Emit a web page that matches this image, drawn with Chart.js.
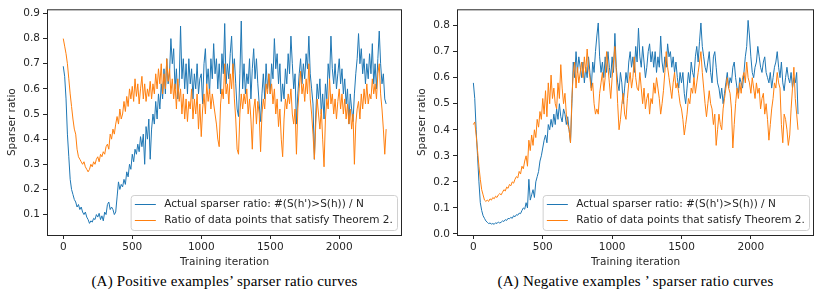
<!DOCTYPE html>
<html>
<head>
<meta charset="utf-8">
<script src="https://cdn.jsdelivr.net/npm/chart.js@4.4.0/dist/chart.umd.min.js"></script>
<style>
  html, body { margin: 0; padding: 0; background: #fff; }
  #wrap { position: relative; width: 822px; height: 291px; overflow: hidden; }
  .panel { position: absolute; top: 0; }
  .cap { position: absolute; top: 274px; font-family: "Liberation Serif", "Times New Roman", serif;
         font-size: 15px; letter-spacing: 0.2px; line-height: 15px; color: #000; white-space: nowrap; text-align: center; }
</style>
</head>
<body>
<div id="wrap">
  <canvas class="panel" id="posChart" width="410" height="270" style="left:0"></canvas>
  <canvas class="panel" id="negChart" width="412" height="270" style="left:410px"></canvas>
  <div class="cap" style="left:47px;width:355px">(A) Positive examples’ sparser ratio curves</div>
  <div class="cap" style="left:457px;width:357px">(A) Negative examples ’ sparser ratio curves</div>
</div>
<script>
// one value every 10 training iterations (0 .. 2340), one row = 100 iterations
const STEP = 10;

const posActual = [
  0.69,0.65,0.56,0.42,0.33,0.24,0.20,0.18,0.16,0.15,
  0.13,0.14,0.12,0.13,0.11,0.10,0.11,0.09,0.08,0.065,
  0.075,0.07,0.085,0.08,0.10,0.09,0.105,0.08,0.095,0.075,
  0.11,0.10,0.14,0.15,0.12,0.13,0.12,0.10,0.11,0.17,
  0.23,0.20,0.22,0.21,0.24,0.22,0.27,0.25,0.30,0.28,
  0.34,0.31,0.36,0.34,0.38,0.35,0.41,0.37,0.42,0.30,
  0.45,0.40,0.48,0.32,0.44,0.50,0.46,0.55,0.48,0.58,
  0.52,0.62,0.56,0.68,0.58,0.72,0.62,0.66,0.80,0.70,
  0.76,0.60,0.68,0.56,0.62,0.85,0.64,0.72,0.60,0.70,
  0.58,0.72,0.62,0.68,0.56,0.66,0.60,0.70,0.58,0.64,
  0.66,0.54,0.70,0.76,0.62,0.68,0.58,0.72,0.64,0.78,
  0.66,0.72,0.60,0.70,0.58,0.74,0.66,0.86,0.62,0.70,
  0.64,0.74,0.81,0.66,0.72,0.62,0.52,0.49,0.66,0.87,
  0.60,0.70,0.58,0.66,0.62,0.72,0.56,0.68,0.76,0.64,
  0.72,0.62,0.54,0.47,0.58,0.66,0.56,0.70,0.60,0.66,
  0.58,0.70,0.64,0.80,0.68,0.74,0.62,0.70,0.55,0.62,
  0.56,0.68,0.62,0.74,0.66,0.81,0.70,0.60,0.66,0.46,
  0.58,0.66,0.72,0.62,0.70,0.64,0.74,0.68,0.81,0.66,
  0.60,0.54,0.32,0.50,0.62,0.56,0.64,0.50,0.58,0.48,
  0.62,0.56,0.70,0.64,0.81,0.68,0.62,0.70,0.60,0.66,
  0.72,0.62,0.68,0.58,0.64,0.54,0.60,0.46,0.58,0.52,
  0.47,0.58,0.66,0.72,0.82,0.70,0.76,0.66,0.72,0.62,
  0.70,0.64,0.74,0.66,0.78,0.62,0.70,0.60,0.72,0.83,
  0.70,0.62,0.66,0.56,0.54
];
const posTheorem = [
  0.80,0.77,0.74,0.70,0.64,0.58,0.53,0.48,0.44,0.42,
  0.36,0.33,0.32,0.31,0.30,0.31,0.29,0.28,0.27,0.28,
  0.30,0.29,0.31,0.30,0.32,0.33,0.31,0.34,0.33,0.35,
  0.34,0.37,0.38,0.36,0.42,0.40,0.44,0.42,0.46,0.49,
  0.46,0.52,0.48,0.50,0.55,0.51,0.57,0.53,0.60,0.56,
  0.61,0.55,0.64,0.57,0.62,0.54,0.60,0.65,0.56,0.62,
  0.55,0.60,0.57,0.63,0.56,0.62,0.58,0.66,0.60,0.68,
  0.62,0.70,0.58,0.66,0.60,0.72,0.63,0.68,0.58,0.64,
  0.56,0.62,0.52,0.64,0.55,0.60,0.50,0.58,0.48,0.56,
  0.47,0.55,0.52,0.60,0.48,0.56,0.50,0.58,0.44,0.54,
  0.41,0.52,0.58,0.50,0.62,0.55,0.60,0.52,0.58,0.54,
  0.50,0.46,0.40,0.37,0.54,0.60,0.56,0.70,0.58,0.62,
  0.54,0.66,0.60,0.70,0.56,0.48,0.36,0.34,0.50,0.58,
  0.52,0.58,0.54,0.60,0.50,0.56,0.48,0.36,0.52,0.56,
  0.46,0.55,0.50,0.35,0.50,0.56,0.52,0.62,0.58,0.66,
  0.58,0.62,0.54,0.60,0.50,0.56,0.45,0.52,0.40,0.33,
  0.48,0.56,0.52,0.58,0.54,0.60,0.50,0.46,0.52,0.34,
  0.52,0.60,0.67,0.58,0.62,0.55,0.64,0.58,0.70,0.56,
  0.50,0.42,0.32,0.46,0.56,0.50,0.44,0.52,0.40,0.29,
  0.48,0.56,0.52,0.64,0.54,0.58,0.50,0.56,0.48,0.55,
  0.60,0.52,0.58,0.50,0.56,0.48,0.54,0.46,0.52,0.44,
  0.50,0.30,0.46,0.52,0.55,0.48,0.58,0.52,0.60,0.54,
  0.62,0.54,0.58,0.56,0.64,0.58,0.62,0.56,0.66,0.70,
  0.58,0.52,0.44,0.34,0.44
];
const negActual = [
  0.58,0.52,0.40,0.30,0.20,0.12,0.09,0.07,0.06,0.05,
  0.045,0.04,0.042,0.038,0.04,0.037,0.043,0.04,0.046,0.042,
  0.045,0.05,0.048,0.055,0.052,0.06,0.058,0.064,0.06,0.07,
  0.066,0.074,0.072,0.08,0.078,0.09,0.10,0.095,0.12,0.10,
  0.21,0.13,0.15,0.17,0.14,0.20,0.22,0.24,0.28,0.30,
  0.33,0.36,0.38,0.35,0.42,0.40,0.44,0.41,0.46,0.42,
  0.48,0.44,0.50,0.45,0.43,0.48,0.46,0.42,0.45,0.40,
  0.35,0.50,0.66,0.60,0.70,0.62,0.68,0.64,0.60,0.66,
  0.58,0.64,0.60,0.68,0.62,0.56,0.66,0.62,0.70,0.76,
  0.81,0.68,0.62,0.66,0.60,0.68,0.62,0.70,0.64,0.60,
  0.68,0.62,0.77,0.64,0.58,0.55,0.62,0.58,0.50,0.56,
  0.62,0.58,0.66,0.70,0.64,0.68,0.62,0.72,0.66,0.79,
  0.68,0.64,0.72,0.66,0.60,0.64,0.70,0.73,0.66,0.70,
  0.64,0.70,0.62,0.68,0.64,0.76,0.66,0.62,0.68,0.64,
  0.73,0.68,0.70,0.64,0.68,0.62,0.66,0.60,0.56,0.62,
  0.58,0.62,0.54,0.50,0.56,0.62,0.58,0.66,0.62,0.60,
  0.68,0.72,0.66,0.74,0.81,0.72,0.68,0.64,0.62,0.66,
  0.70,0.62,0.58,0.68,0.70,0.64,0.58,0.56,0.52,0.56,
  0.50,0.54,0.58,0.62,0.56,0.60,0.58,0.64,0.66,0.60,
  0.56,0.54,0.60,0.58,0.56,0.62,0.68,0.72,0.82,0.76,
  0.68,0.62,0.60,0.64,0.66,0.72,0.68,0.64,0.62,0.66,
  0.68,0.62,0.60,0.58,0.62,0.56,0.60,0.64,0.66,0.70,
  0.64,0.60,0.66,0.58,0.55,0.60,0.64,0.60,0.58,0.62,
  0.56,0.60,0.58,0.62,0.46
];
const negTheorem = [
  0.42,0.43,0.38,0.32,0.26,0.21,0.17,0.15,0.13,0.125,
  0.13,0.125,0.135,0.13,0.14,0.135,0.145,0.14,0.15,0.155,
  0.15,0.16,0.17,0.165,0.18,0.175,0.19,0.185,0.20,0.195,
  0.21,0.22,0.215,0.24,0.23,0.26,0.25,0.28,0.30,0.26,
  0.36,0.32,0.38,0.34,0.40,0.37,0.44,0.41,0.47,0.44,
  0.52,0.46,0.55,0.45,0.58,0.50,0.61,0.52,0.56,0.50,
  0.48,0.58,0.52,0.65,0.56,0.50,0.54,0.46,0.42,0.40,
  0.35,0.52,0.62,0.66,0.56,0.64,0.58,0.62,0.66,0.60,
  0.68,0.62,0.71,0.64,0.60,0.55,0.58,0.50,0.46,0.48,
  0.46,0.54,0.58,0.62,0.55,0.60,0.70,0.64,0.58,0.52,
  0.60,0.66,0.72,0.62,0.50,0.40,0.44,0.50,0.54,0.46,
  0.44,0.52,0.58,0.62,0.56,0.60,0.68,0.60,0.56,0.55,
  0.62,0.56,0.50,0.56,0.48,0.52,0.54,0.46,0.52,0.50,
  0.58,0.54,0.60,0.56,0.52,0.46,0.50,0.55,0.62,0.70,
  0.64,0.60,0.56,0.52,0.58,0.62,0.56,0.58,0.54,0.50,
  0.48,0.44,0.38,0.42,0.46,0.52,0.50,0.56,0.54,0.60,
  0.54,0.58,0.62,0.66,0.70,0.62,0.56,0.50,0.45,0.50,
  0.55,0.50,0.48,0.42,0.46,0.34,0.40,0.46,0.42,0.40,
  0.48,0.52,0.56,0.60,0.56,0.54,0.48,0.33,0.42,0.50,
  0.56,0.52,0.58,0.54,0.60,0.62,0.58,0.66,0.60,0.58,
  0.54,0.60,0.56,0.52,0.58,0.54,0.56,0.48,0.52,0.54,
  0.46,0.50,0.44,0.36,0.42,0.48,0.52,0.58,0.56,0.62,
  0.58,0.56,0.42,0.35,0.46,0.44,0.40,0.34,0.38,0.48,
  0.56,0.64,0.52,0.46,0.40
];

const xTicks = [0, 500, 1000, 1500, 2000];
const posYTicks = [0.1, 0.2, 0.3, 0.4, 0.5, 0.6, 0.7, 0.8, 0.9];
const negYTicks = [0.0, 0.1, 0.2, 0.3, 0.4, 0.5, 0.6, 0.7, 0.8];
const seriesLabels = ["Actual sparser ratio: #(S(h')>S(h)) / N", "Ratio of data points that satisfy Theorem 2."];

const FONT = 'DejaVu Sans';
const FS = 10.5;
const TXT = '#262626';

const toPoints = arr => arr.map((v, i) => ({ x: i * STEP, y: v }));

// box around the axes + legend in the lower right, matplotlib style
const framePlugin = {
  id: 'frame',
  afterDraw(chart) {
    const { ctx, chartArea: a } = chart;
    ctx.save();
    ctx.strokeStyle = TXT;
    ctx.lineWidth = 1;
    ctx.strokeRect(a.left + 0.5, a.top + 0.5, a.right - a.left - 1, a.bottom - a.top);

    ctx.font = FS + 'px "' + FONT + '"';
    const textW = Math.max(...chart.data.datasets.map(d => ctx.measureText(d.label).width));
    const pad = 0.4 * FS, handle = 2 * FS, gap = 0.8 * FS;
    const w = pad * 2 + handle + gap + textW, h = 35;
    const right = a.right - 5, bottom = a.bottom - 5;
    const left = right - w, top = bottom - h;
    ctx.beginPath();
    ctx.roundRect(left + 0.5, top + 0.5, w, h, 3);
    ctx.fillStyle = 'rgba(255,255,255,0.8)';
    ctx.fill();
    ctx.strokeStyle = '#d0d0d0';
    ctx.stroke();
    chart.data.datasets.forEach((d, i) => {
      const y = top + 9.5 + i * 16;
      ctx.beginPath();
      ctx.moveTo(left + pad, y);
      ctx.lineTo(left + pad + handle, y);
      ctx.strokeStyle = d.borderColor;
      ctx.lineWidth = 1;
      ctx.stroke();
      ctx.fillStyle = TXT;
      ctx.textBaseline = 'middle';
      ctx.fillText(d.label, left + pad + handle + gap, y);
    });
    ctx.restore();
  }
};

function makeChart(id, actual, theorem, yMin, yMax, yTicks) {
  return new Chart(document.getElementById(id), {
    type: 'line',
    data: {
      datasets: [
        { label: seriesLabels[0], data: toPoints(actual), borderColor: '#1f77b4', borderWidth: 1, pointRadius: 0, order: 2 },
        { label: seriesLabels[1], data: toPoints(theorem), borderColor: '#ff7f0e', borderWidth: 1, pointRadius: 0, order: 1 }
      ]
    },
    options: {
      responsive: false,
      animation: false,
      layout: { padding: { top: 3, right: 8, left: 0, bottom: 0 } },
      plugins: { legend: { display: false }, tooltip: { enabled: false } },
      scales: {
        x: {
          type: 'linear', min: -118, max: 2455,
          afterBuildTicks: s => { s.ticks = xTicks.map(v => ({ value: v })); },
          afterFit: s => { s.height = 35; },
          grid: { drawOnChartArea: false, drawTicks: true, tickLength: 4, color: TXT },
          border: { display: false },
          ticks: { font: { family: FONT, size: FS }, color: TXT, padding: 2, maxRotation: 0, callback: v => String(v) },
          title: { display: true, text: 'Training iteration', font: { family: FONT, size: FS }, color: TXT, padding: { top: 0, bottom: 1.5 } }
        },
        y: {
          type: 'linear', min: yMin, max: yMax,
          afterBuildTicks: s => { s.ticks = yTicks.map(v => ({ value: v })); },
          afterFit: s => { s.width = 47; },
          grid: { drawOnChartArea: false, drawTicks: true, tickLength: 4, color: TXT },
          border: { display: false },
          ticks: { font: { family: FONT, size: FS }, color: TXT, padding: 3, callback: v => v.toFixed(1) },
          title: { display: true, text: 'Sparser ratio', font: { family: FONT, size: FS }, color: TXT, padding: { top: 6, bottom: 0 } }
        }
      }
    },
    plugins: [framePlugin]
  });
}

makeChart('posChart', posActual, posTheorem, 0.0187, 0.9166, posYTicks);
makeChart('negChart', negActual, negTheorem, -0.004, 0.8625, negYTicks);
</script>
</body>
</html>
